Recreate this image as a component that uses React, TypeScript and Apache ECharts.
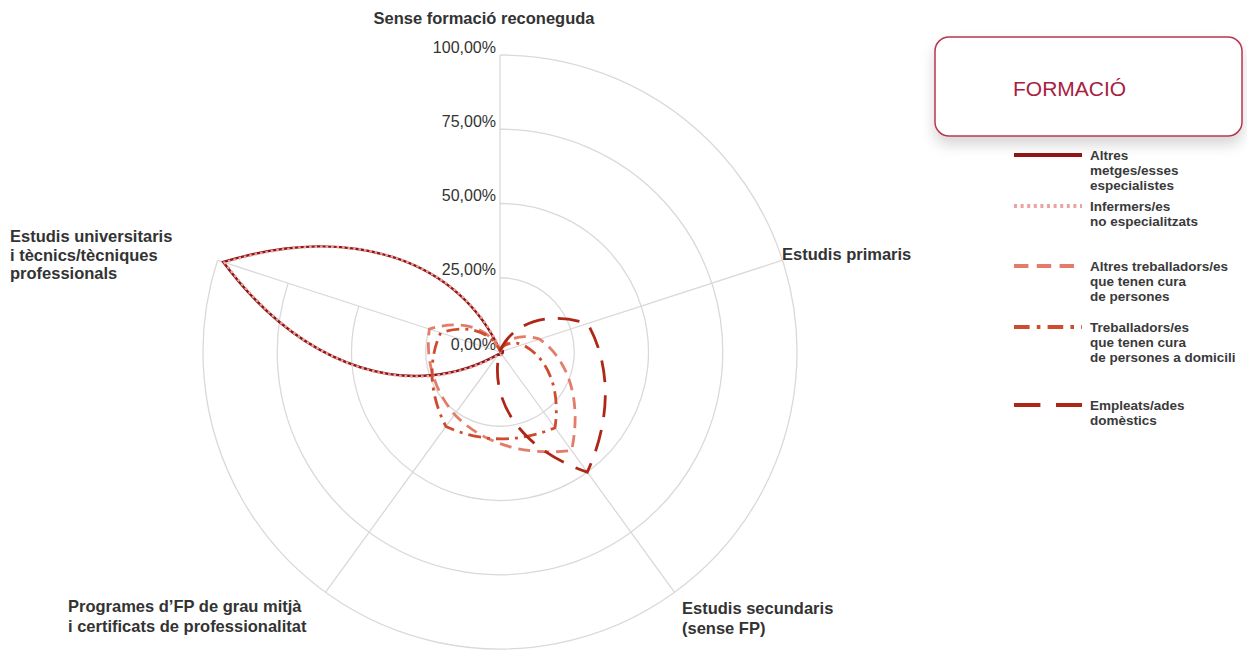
import React, { useEffect, useRef } from "react";
import * as echarts from "echarts";

// ---- data ----
const CATEGORIES = [
  "Sense formació reconeguda",
  "Estudis primaris",
  "Estudis secundaris (sense FP)",
  "Programes d’FP de grau mitjà i certificats de professionalitat",
  "Estudis universitaris i tècnics/tècniques professionals",
];
const CATEGORY_LABELS = [
  "Sense formació reconeguda",
  "Estudis primaris",
  "Estudis secundaris\n(sense FP)",
  "Programes d’FP de grau mitjà\ni certificats de professionalitat",
  "Estudis universitaris\ni tècnics/tècniques\nprofessionals",
];
const RADIUS_TICKS = [0, 25, 50, 75, 100];

const SERIES_NAMES = [
  "Altres metges/esses especialistes",
  "Infermers/es no especialitzats",
  "Altres treballadors/es que tenen cura de persones",
  "Treballadors/es que tenen cura de persones a domicili",
  "Empleats/ades domèstics",
];
const LEGEND_LABELS = [
  "Altres\nmetges/esses\nespecialistes",
  "Infermers/es\nno especialitzats",
  "Altres treballadors/es\nque tenen cura\nde persones",
  "Treballadors/es\nque tenen cura\nde persones a domicili",
  "Empleats/ades\ndomèstics",
];
const LEGEND_TITLE = "FORMACIÓ";

// values (%) in CATEGORIES order
const ALTRES_METGES = [0.5, 1, 1, 1, 98];
const INFERMERS = [1, 0.5, 1, 1.5, 97.5];
const ALTRES_TREBALLADORS = [0.5, 14, 41, 26, 25];
const TREBALLADORS_DOMICILI = [0.5, 8, 31.5, 31, 21];
const EMPLEATS_DOMESTICS = [0.5, 31, 50, 0.5, 0.5];
const SERIES_VALUES = [
  ALTRES_METGES,
  INFERMERS,
  ALTRES_TREBALLADORS,
  TREBALLADORS_DOMICILI,
  EMPLEATS_DOMESTICS,
];

// ---- styles ----
const FONT = '"Liberation Sans", Arial, Helvetica, sans-serif';
const SERIES_STYLES = [
  { color: "#8e1616", width: 2.5, dash: null as number[] | null },
  { color: "#eaa3a0", width: 2.5, dash: [2.5, 3] },
  { color: "#e37c68", width: 2.8, dash: [12, 7] },
  { color: "#cf4b2d", width: 2.8, dash: [13, 6, 3, 6] },
  { color: "#ad2616", width: 2.8, dash: [22, 13] },
];
const LEGEND_Y = [155, 206, 266, 327, 405];
const NAME_LAYOUT = [
  { x: 484, y: 18, align: "center" },
  { x: 782, y: 254, align: "left" },
  { x: 682, y: 608, align: "left" },
  { x: 68, y: 606, align: "left" },
  { x: 10, y: 236, align: "left" },
];

export default function App() {
  const ref = useRef<HTMLDivElement>(null);
  useEffect(() => {
    if (!ref.current) return;
    const chart = echarts.init(ref.current, null, { renderer: "svg" });

    const series = SERIES_VALUES.map((vals, si) => {
      const st = SERIES_STYLES[si];
      return {
        type: "custom",
        name: SERIES_NAMES[si],
        coordinateSystem: "polar",
        silent: true,
        clip: false,
        z: 5 + si,
        itemStyle: { color: st.color },
        data: vals.map((v, i) => [v, i]),
        renderItem: (params: any, api: any) => {
          if (params.dataIndex !== 0) return null;
          const n = vals.length;
          const c = api.coord([0, 0]);
          const full = RADIUS_TICKS[RADIUS_TICKS.length - 1];
          const ang = (i: number) => {
            const p = api.coord([full, i % n]);
            return Math.atan2(p[1] - c[1], p[0] - c[0]);
          };
          const rad = (r: number) => {
            const p = api.coord([r, 0]);
            return Math.hypot(p[0] - c[0], p[1] - c[1]);
          };
          const P = (r: number, a: number) => [
            c[0] + rad(r) * Math.cos(a),
            c[1] + rad(r) * Math.sin(a),
          ];
          const a0s = vals.map((_, i) => ang(i));
          const p0 = P(vals[0], a0s[0]);
          let d = `M${p0[0]},${p0[1]}`;
          for (let i = 0; i < n; i++) {
            const r0 = vals[i];
            const r1 = vals[(i + 1) % n];
            const a0 = a0s[i];
            let da = a0s[(i + 1) % n] - a0;
            while (da > Math.PI) da -= 2 * Math.PI;
            while (da <= -Math.PI) da += 2 * Math.PI;
            const c1 = P(r0 + (r1 - r0) / 3, a0 + da / 3);
            const c2 = P(r0 + (2 * (r1 - r0)) / 3, a0 + (2 * da) / 3);
            const e = P(r1, a0 + da);
            d += `C${c1[0]},${c1[1]} ${c2[0]},${c2[1]} ${e[0]},${e[1]}`;
          }
          d += "Z";
          return {
            type: "path",
            shape: { pathData: d },
            style: {
              fill: "none",
              stroke: st.color,
              lineWidth: st.width,
              lineDash: st.dash || undefined,
            },
          };
        },
      };
    });

    const elements: any[] = [];
    CATEGORY_LABELS.forEach((t, i) => {
      const L = NAME_LAYOUT[i];
      const lh = i === 4 ? 18.5 : 20;
      elements.push({
        type: "text",
        x: L.x,
        y: L.y - lh / 2,
        silent: true,
        style: {
          text: t,
          fill: "#333333",
          fontSize: 16.5,
          fontWeight: "bold",
          fontFamily: FONT,
          align: L.align,
          verticalAlign: "top",
          lineHeight: lh,
        },
      });
    });
    elements.push({
      type: "rect",
      shape: { x: 935, y: 37, width: 307, height: 99, r: 14 },
      style: {
        fill: "#ffffff",
        stroke: "#b83650",
        lineWidth: 1.5,
        shadowBlur: 14,
        shadowColor: "rgba(0,0,0,0.16)",
        shadowOffsetY: 8,
      },
      silent: true,
    });
    elements.push({
      type: "text",
      x: 1013,
      y: 88,
      silent: true,
      style: {
        text: LEGEND_TITLE,
        fill: "#a8203f",
        fontSize: 21,
        fontFamily: FONT,
        align: "left",
        verticalAlign: "middle",
      },
    });
    LEGEND_LABELS.forEach((t, i) => {
      const st = SERIES_STYLES[i];
      const y = LEGEND_Y[i];
      elements.push({
        type: "line",
        silent: true,
        shape: { x1: 1014, y1: y, x2: 1082, y2: y },
        style: {
          stroke: st.color,
          lineWidth: 4,
          lineDash: st.dash ? st.dash.map((v) => v * 1.2) : undefined,
        },
      });
      elements.push({
        type: "text",
        x: 1090,
        y: y - 7.5,
        silent: true,
        style: {
          text: t,
          fill: "#3a3a3a",
          fontSize: 13.5,
          fontWeight: "bold",
          fontFamily: FONT,
          align: "left",
          verticalAlign: "top",
          lineHeight: 15,
        },
      });
    });

    chart.setOption({
      animation: false,
      backgroundColor: "#ffffff",
      polar: { center: [500, 352], radius: 297 },
      angleAxis: {
        type: "category",
        data: CATEGORIES,
        startAngle: 90,
        clockwise: true,
        boundaryGap: false,
        axisLine: { show: false },
        axisTick: { show: false },
        axisLabel: { show: false },
        splitLine: { show: true, lineStyle: { color: "#d9d9d9", width: 1.3 } },
        z: 1,
      },
      radiusAxis: {
        type: "value",
        min: RADIUS_TICKS[0],
        max: RADIUS_TICKS[RADIUS_TICKS.length - 1],
        interval: RADIUS_TICKS[1] - RADIUS_TICKS[0],
        axisLine: { show: false },
        axisTick: { show: false },
        splitLine: { show: true, lineStyle: { color: "#d9d9d9", width: 1.3 } },
        axisLabel: {
          formatter: (v: number) => v.toFixed(2).replace(".", ",") + "%",
          color: "#333333",
          fontSize: 16,
          fontFamily: FONT,
          align: "right",
          verticalAlign: "bottom",
          margin: 4,
        },
        z: 3,
      },
      graphic: { elements },
      series,
    } as any);
    return () => chart.dispose();
  }, []);
  return (
    <div
      ref={ref}
      style={{ position: "absolute", left: 0, top: 0, width: 1247, height: 653 }}
    />
  );
}
